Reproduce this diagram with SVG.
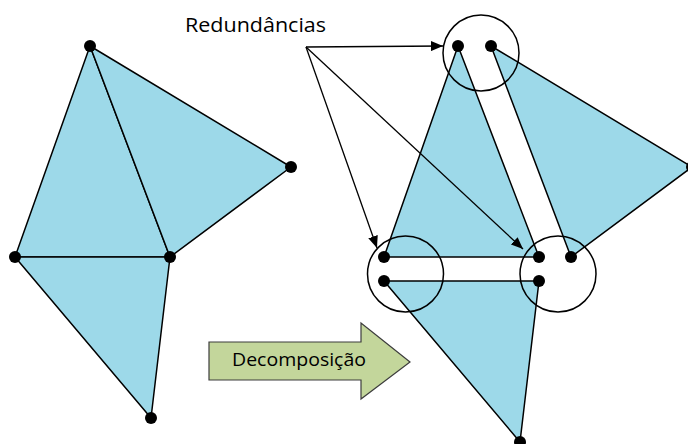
<svg xmlns="http://www.w3.org/2000/svg" width="688" height="444" viewBox="0 0 688 444">
  <style>
    .tri { fill: #9DD9E9; stroke: #000; stroke-width: 1.5; stroke-linejoin: round; }
    .dot { fill: #000; }
    .ring { fill: none; stroke: #000; stroke-width: 1.5; }
    .conn { fill: none; stroke: #000; stroke-width: 1.3; }
    .lbl { font-family: "Open Sans", "Liberation Sans", sans-serif; fill: #000; }
  </style>
  <defs>
    <marker id="ah" viewBox="0 0 12 10" refX="12" refY="5" markerWidth="12" markerHeight="10" markerUnits="userSpaceOnUse" orient="auto">
      <path d="M0,0 L12,5 L0,10 Z" fill="#000"/>
    </marker>
  </defs>
  <rect width="688" height="444" fill="#fff"/>

  <g id="mesh-original">
    <polygon class="tri" points="90,46 15,257 170,257"/>
    <polygon class="tri" points="90,46 170,257 291,167"/>
    <polygon class="tri" points="15,257 170,257 151,418"/>
    <circle class="dot" cx="90" cy="46" r="6"/>
    <circle class="dot" cx="291" cy="167" r="6"/>
    <circle class="dot" cx="15" cy="257" r="6"/>
    <circle class="dot" cx="170" cy="257" r="6"/>
    <circle class="dot" cx="151" cy="418" r="6"/>
  </g>

  <g id="mesh-decomposed">
    <polygon class="tri" points="458,46 384,257 539,257"/>
    <polygon class="tri" points="491,46 571,257 692,167"/>
    <polygon class="tri" points="384,281 539,281 520,442"/>
    <circle class="dot" cx="458" cy="46" r="6"/>
    <circle class="dot" cx="491" cy="46" r="6"/>
    <circle class="dot" cx="692" cy="167" r="6"/>
    <circle class="dot" cx="384" cy="257" r="6"/>
    <circle class="dot" cx="539" cy="257" r="6"/>
    <circle class="dot" cx="571" cy="257" r="6"/>
    <circle class="dot" cx="384" cy="281" r="6"/>
    <circle class="dot" cx="539" cy="281" r="6"/>
    <circle class="dot" cx="520" cy="442" r="6"/>
  </g>

  <g id="redundancy-top">
    <circle class="ring" cx="481" cy="53" r="38"/>
  </g>
  <g id="redundancy-left">
    <circle class="ring" cx="405.5" cy="274" r="38"/>
  </g>
  <g id="redundancy-right">
    <circle class="ring" cx="558" cy="274" r="38"/>
  </g>

  <g id="label-redundancias">
    <text class="lbl" x="185" y="32" font-size="19.5" textLength="141" lengthAdjust="spacingAndGlyphs">Redundâncias</text>
  </g>

  <g id="connectors">
    <line class="conn" x1="306" y1="47" x2="443" y2="46" marker-end="url(#ah)"/>
    <line class="conn" x1="306" y1="47" x2="377" y2="248" marker-end="url(#ah)"/>
    <line class="conn" x1="306" y1="47" x2="523" y2="249" marker-end="url(#ah)"/>
  </g>

  <g id="decomposicao">
    <polygon points="209,342 361,342 361,323 410,362 361,399 361,380 209,380" fill="#C3D69B" stroke="#3c3c3c" stroke-width="1.2"/>
    <text class="lbl" x="232" y="366" font-size="17.5" textLength="134" lengthAdjust="spacingAndGlyphs">Decomposição</text>
  </g>
</svg>
